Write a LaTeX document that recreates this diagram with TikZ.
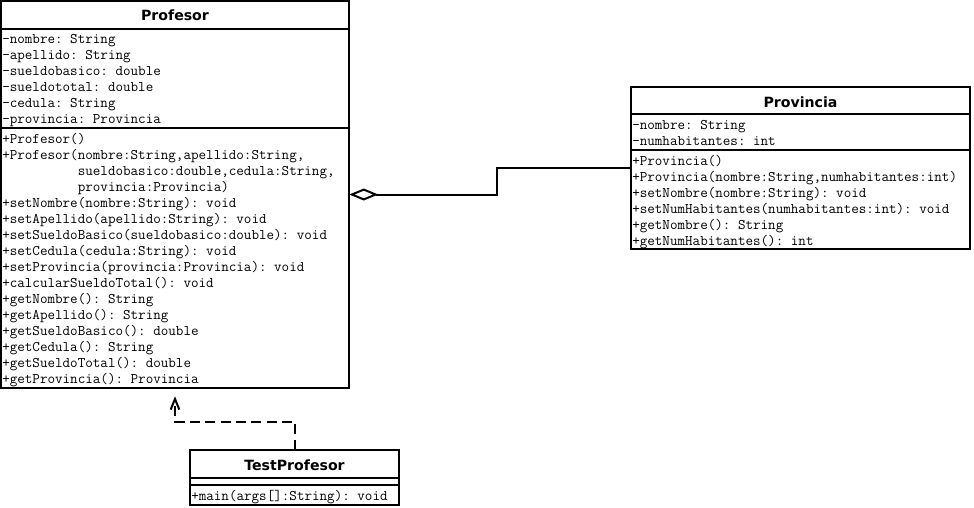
\documentclass[tikz,border=0pt]{standalone}
\usepackage{fontspec}
\usetikzlibrary{arrows.meta,fit}
\newfontfamily\titlefont{DejaVu Sans}

\tikzset{
    classtitle/.style={anchor=base, inner sep=0pt, font=\titlefont\bfseries\fontsize{10.6}{12}\selectfont},
    members/.style={anchor=base west, inner sep=0pt, align=left, font=\ttfamily\frenchspacing\fontsize{11}{12}\selectfont},
    aggregation/.style={line width=1.5pt, -{Diamond[open,length=21.75pt,width=9pt]}},
    dependency/.style={line width=1.5pt, dash pattern=on 7.5pt off 4pt, shorten >=6pt, -{Straight Barb[length=8pt,width=6.5pt]}}
}

% class box: name, left, top, right, bottom, first divider, second divider
\newcommand{\classbox}[7]{
    \draw[line width=1.5pt] (#2,#3) rectangle (#4,#5);
    \draw[line width=1.5pt] (#2,#6) -- (#4,#6);
    \draw[line width=1.5pt] (#2,#7) -- (#4,#7);
    \node[fit={(#2,#3) (#4,#5)}, inner sep=0pt] (#1) {};
}

\begin{document}
\begin{tikzpicture}[x=0.75pt,y=-0.75pt]
    \useasboundingbox (0,0) rectangle (974,507);

    \classbox{profesor}{1}{1}{349}{388}{29}{128};
    \classbox{provincia}{631}{87}{970}{249}{114}{150};
    \classbox{testprofesor}{190}{450}{399}{505}{478}{485};

    % member lists are placed by the baseline of their last line
    \node[classtitle] (profesor-name) at (175,20) {Profesor};
    \node[members] (profesor-attr) at (2,123) {-nombre: String\\-apellido: String\\-sueldobasico: double\\-sueldototal: double\\-cedula: String\\-provincia: Provincia};
    \node[members] (profesor-ops) at (2,383) {+Profesor()\\
        +Profesor(nombre:String,apellido:String,\\
        \phantom{+Profesor(}sueldobasico:double,cedula:String,\\
        \phantom{+Profesor(}provincia:Provincia)\\
        +setNombre(nombre:String): void\\
        +setApellido(apellido:String): void\\
        +setSueldoBasico(sueldobasico:double): void\\
        +setCedula(cedula:String): void\\
        +setProvincia(provincia:Provincia): void\\
        +calcularSueldoTotal(): void\\
        +getNombre(): String\\
        +getApellido(): String\\
        +getSueldoBasico(): double\\
        +getCedula(): String\\
        +getSueldoTotal(): double\\
        +getProvincia(): Provincia};

    \node[classtitle] (provincia-name) at (800.5,107) {Provincia};
    \node[members] (provincia-attr) at (632,145) {-nombre: String\\-numhabitantes: int};
    \node[members] (provincia-ops) at (632,245) {+Provincia()\\
        +Provincia(nombre:String,numhabitantes:int)\\
        +setNombre(nombre:String): void\\
        +setNumHabitantes(numhabitantes:int): void\\
        +getNombre(): String\\
        +getNumHabitantes(): int};

    \node[classtitle] (testprofesor-name) at (294.5,470) {TestProfesor};
    \node[members] (testprofesor-ops) at (191,500) {+main(args[]:String): void};

    \draw[aggregation] (provincia.west) -- ++(-134,0) |- (profesor.east);
    \draw[dependency] (testprofesor.north) -- ++(0,-28) -| (profesor.south);
\end{tikzpicture}
\end{document}
